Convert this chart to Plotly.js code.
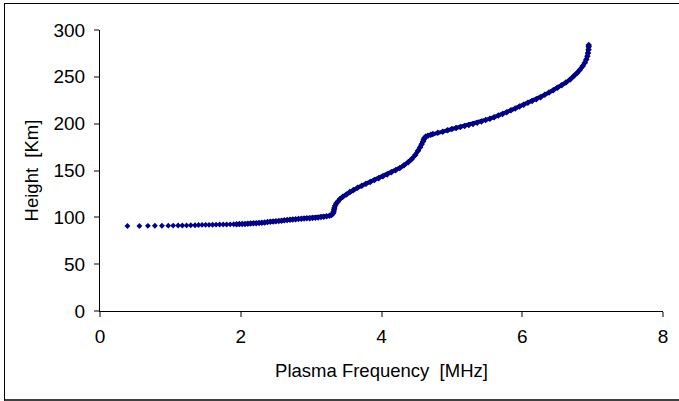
<!DOCTYPE html>
<html>
<head>
<meta charset="utf-8">
<script src="https://cdn.plot.ly/plotly-3.0.1.min.js"></script>
<style>
  html, body { margin: 0; padding: 0; background: #fff; }
  #wrap { position: relative; width: 679px; height: 401px; overflow: hidden; }
  #chart { position: absolute; left: 0; top: 0; width: 679px; height: 401px; }
  #frame { position: absolute; left: 4px; top: 3px; width: 700px; height: 395px;
           border-left: 1px solid #000; border-top: 1px solid #000; border-bottom: 3px solid #404040;
           pointer-events: none; }
</style>
</head>
<body>
<div id="wrap"><div id="chart"></div><div id="frame"></div></div>
<script>
// Sparse low-frequency samples (drawn as separate dots)
const freqLow = [0.39, 0.56, 0.68, 0.78, 0.88, 0.97, 1.04, 1.11, 1.17, 1.23, 1.29, 1.35,
  1.40, 1.45, 1.50, 1.55, 1.60, 1.65, 1.70, 1.75, 1.80, 1.85, 1.90];
const heightLow = [90.7, 90.8, 90.9, 91.0, 91.0, 91.1, 91.2, 91.3, 91.3, 91.4, 91.5, 91.6,
  91.8, 91.9, 92.0, 92.0, 92.1, 92.2, 92.3, 92.3, 92.4, 92.5, 92.6];

// Dense samples (appear as a continuous thick trace)
const freqHigh = [1.94, 1.98, 2.02, 2.06, 2.10, 2.14, 2.18, 2.22, 2.26, 2.30, 2.34, 2.38, 2.42, 2.46,
  2.50, 2.54, 2.58, 2.62, 2.66, 2.70, 2.74, 2.78, 2.82, 2.86, 2.90, 2.94, 2.98, 3.02, 3.06, 3.10,
  3.14, 3.18, 3.22, 3.26, 3.29, 3.31, 3.32, 3.325, 3.33, 3.34, 3.36, 3.38, 3.41, 3.45, 3.50, 3.55,
  3.60, 3.66, 3.72, 3.78, 3.84, 3.90, 3.96, 4.02, 4.08, 4.14, 4.20, 4.26, 4.32, 4.38, 4.43, 4.48,
  4.52, 4.55, 4.57, 4.59, 4.60, 4.61, 4.63, 4.66, 4.70, 4.73, 4.80, 4.87, 4.94, 5.00, 5.06, 5.12,
  5.18, 5.24, 5.30, 5.36, 5.42, 5.48, 5.54, 5.60, 5.66, 5.72, 5.78, 5.84, 5.90, 5.96, 6.02, 6.08,
  6.14, 6.20, 6.26, 6.32, 6.38, 6.44, 6.50, 6.56, 6.62, 6.68, 6.73, 6.78, 6.82, 6.86, 6.89, 6.91,
  6.925, 6.935, 6.942, 6.945, 6.945];
const heightHigh = [92.7, 92.8, 92.9, 93.0, 93.2, 93.4, 93.6, 93.8, 94.0, 94.3, 94.6, 94.9, 95.2, 95.5,
  95.8, 96.1, 96.4, 96.8, 97.1, 97.4, 97.7, 98.0, 98.2, 98.5, 98.7, 98.9, 99.1, 99.3, 99.6, 99.9,
  100.3, 100.7, 101.2, 101.8, 102.6, 104.0, 106.0, 108.0, 110.0, 112.5, 115.0, 117.0, 119.5, 122.0, 124.5, 127.0,
  129.2, 131.5, 133.8, 135.8, 137.8, 139.8, 141.8, 143.8, 145.8, 148.0, 150.3, 152.8, 155.6, 158.8, 162.3, 166.5,
  171.0, 174.8, 178.0, 181.0, 183.0, 184.8, 186.2, 187.2, 188.2, 189.0, 190.3, 191.5, 193.0, 194.2, 195.3, 196.4,
  197.4, 198.5, 199.7, 201.0, 202.4, 203.8, 205.3, 206.9, 208.6, 210.4, 212.3, 214.3, 216.3, 218.4, 220.3, 222.2,
  224.1, 226.0, 228.3, 230.8, 233.2, 235.7, 238.3, 241.0, 243.9, 247.2, 250.5, 254.0, 257.5, 261.5, 265.0, 268.5,
  272.0, 275.5, 279.0, 282.0, 284.0];

const xTicks = [0, 2, 4, 6, 8];
const yTicks = [0, 50, 100, 150, 200, 250, 300];

const navy = '#000080';
const traces = [
  { x: freqLow, y: heightLow, type: 'scatter', mode: 'markers',
    marker: { symbol: 'diamond', size: 4.5, color: navy }, hoverinfo: 'skip' },
  { x: freqHigh, y: heightHigh, type: 'scatter', mode: 'lines+markers',
    line: { color: navy, width: 4 },
    marker: { symbol: 'diamond', size: 5, color: navy }, hoverinfo: 'skip' }
];

const fontFam = 'Liberation Sans, Arial, sans-serif';
const layout = {
  width: 679, height: 401,
  margin: { l: 100, r: 16, t: 30, b: 90, pad: 0 },
  paper_bgcolor: '#fff', plot_bgcolor: '#fff',
  showlegend: false,
  font: { family: fontFam, size: 19, color: '#000' },
  xaxis: {
    range: [0, 8], tickvals: xTicks, ticktext: xTicks.map(String),
    showgrid: false, zeroline: false, showline: true, linecolor: '#000', linewidth: 1,
    ticks: 'outside', ticklen: 5, tickwidth: 2, tickcolor: '#808080',
    ticklabelstandoff: 3,
    tickfont: { family: fontFam, size: 19, color: '#000' },
    title: { text: 'Plasma Frequency  [MHz]', font: { family: fontFam, size: 18.5, color: '#000' }, standoff: 18 }
  },
  yaxis: {
    range: [0, 300], tickvals: yTicks, ticktext: yTicks.map(String),
    showgrid: false, zeroline: false, showline: true, linecolor: '#000', linewidth: 1,
    ticks: 'outside', ticklen: 5, tickwidth: 2, tickcolor: '#808080',
    ticklabelstandoff: 5,
    tickfont: { family: fontFam, size: 19, color: '#000' },
    title: { text: 'Height  [Km]', font: { family: fontFam, size: 18.5, color: '#000' }, standoff: 10 }
  }
};

Plotly.newPlot('chart', traces, layout, { staticPlot: true, displayModeBar: false });
</script>
</body>
</html>
